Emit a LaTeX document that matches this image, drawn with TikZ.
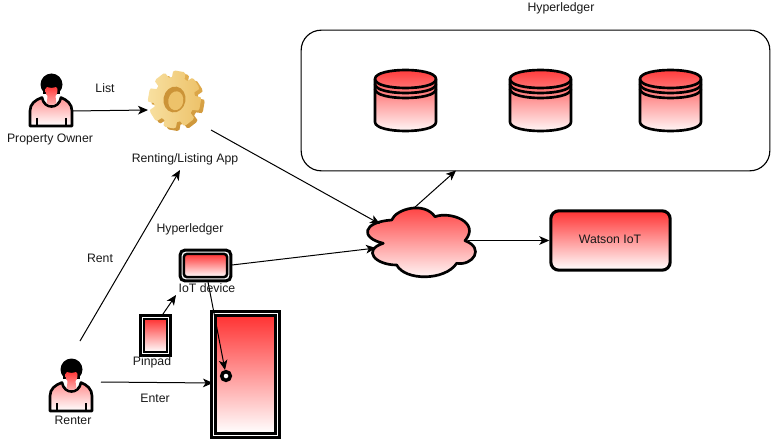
\documentclass[tikz,border=0pt]{standalone}
\usepackage{fontspec}
\setmainfont{Liberation Sans}
\usetikzlibrary{arrows.meta}
\definecolor{gradred}{HTML}{FF3333}
\definecolor{gearlight}{HTML}{F8E0A0}
\definecolor{gearmid}{HTML}{EDC26A}
\definecolor{geardark}{HTML}{CC9438}
\definecolor{gearside}{HTML}{E3AF50}
\tikzset{
  x=0.75pt,y=-0.75pt,
  lbl/.style={font=\fontsize{9.2pt}{10pt}\selectfont,inner sep=0pt,text=black!90},
  link/.style={draw=black,line width=0.75pt,-{Stealth[length=7.5pt,width=6.5pt,inset=2pt]}},
  grad/.style={top color=gradred,bottom color=white},
  thick shape/.style={draw=black,line width=2pt,line join=round},
  person/.pic={
    \fill[black] (0.5,-2.5) circle[radius=11];
    \fill[black] (-8,-2) rectangle (9,7);
    \path[thick shape,top color=gradred!55!white,bottom color=white]
      (-21,39) -- (-21,24) .. controls (-21,17) and (-16,13) .. (-9,10.5)
      .. controls (-7,22.5) and (8,22.5) .. (10,10.5)
      .. controls (16,13) and (21,17) .. (21,24) -- (21,39) -- cycle;
    \path[top color=gradred,bottom color=gradred!35!white]
      (-5.5,3) .. controls (-6,-1) and (-2,0) .. (0.5,1) .. controls (3,0) and (7,-1) .. (6.5,3)
      .. controls (6.5,7) and (5,8) .. (4.5,9) .. controls (5,14) and (5.5,16) .. (5.5,16.5)
      .. controls (2,18.5) and (-1,18.5) .. (-4.5,16.5) .. controls (-4,14) and (-3.5,11) .. (-3.5,9)
      .. controls (-5,8) and (-5.5,6) .. (-5.5,3) -- cycle;
    \draw[thick shape] (-14,31) -- (-14,39) (15,31) -- (15,39);
  },
  cyl/.pic={
    \path[thick shape,grad] (0,9) .. controls (0,-3) and (61,-3) .. (61,9) -- (61,52)
       .. controls (61,64) and (0,64) .. (0,52) -- cycle;
    \draw[thick shape] (0,9) .. controls (0,21) and (61,21) .. (61,9);
    \draw[thick shape] (0,14) .. controls (0,26) and (61,26) .. (61,14);
    \draw[thick shape] (0,19) .. controls (0,31) and (61,31) .. (61,19);
  }
}
\newcommand{\gearoutline}{
  (-14:26 and 28)
  \foreach \a in {0,45,...,315}{
    -- ({\a-14}:26 and 28) -- ({\a-9}:26.5 and 29) -- ({\a+9}:26.5 and 29) -- ({\a+14}:26 and 28)
    -- ({\a+18}:20.5 and 23) -- ({\a+27}:20.5 and 23)
  } -- cycle
}
\begin{document}
\begin{tikzpicture}
\useasboundingbox (0,0) rectangle (771,442);
\fill[white] (0,0) rectangle (771,442);

% Hyperledger container
\node[draw=black,line width=0.85pt,rounded corners=15pt,minimum width=351.5pt,minimum height=105.5pt,inner sep=0pt] (ledger) at (535.5,100.5) {};
\node[lbl] (ledgerlabel) at (561,8) {Hyperledger};
\pic (cyla) at (375,70) {cyl};
\pic (cylb) at (510,70) {cyl};
\pic (cylc) at (640,70) {cyl};
\coordinate (ledgerIn) at (456,170.5);

% Gear
\coordinate (gear) at (176,100);
\begin{scope}[shift={(178,102)},rotate=-10]
  \path[top color=gearside,bottom color=geardark] \gearoutline;
\end{scope}
\begin{scope}[shift={(174.5,99.5)},rotate=-10]
  \path[left color=gearlight,right color=gearmid] \gearoutline;
  \fill[geardark] (0,0) circle[x radius=11,y radius=13];
  \fill[gearmid] (1.5,1) circle[x radius=7.5,y radius=9.5];
\end{scope}
\node[lbl] (listlabel) at (105,88) {List};
\node[lbl] (applabel) at (185,159) {Renting/Listing App};

% People
\pic (owner) at (51,87) {person};
\node[lbl] (ownerlabel) at (50,139.5) {Property Owner};
\pic (renter) at (71,372) {person};
\node[lbl] (renterlabel) at (73,420) {Renter};

% Door
\node[draw=black,line width=2.4pt,fill=white,minimum width=51pt,minimum height=94.5pt,inner sep=0pt] (doorouter) at (245.5,374.5) {};
\node[draw=black,line width=2.1pt,grad,minimum width=45pt,minimum height=88.5pt,inner sep=0pt] (door) at (245.5,374.5) {};
\node[circle,draw=black,line width=2.6pt,fill=white,minimum size=6.5pt,inner sep=0pt] (knob) at (226,376) {};

% Pinpad
\node[draw=black,line width=2.3pt,fill=white,minimum width=23pt,minimum height=30.5pt,inner sep=0pt] (pinouter) at (155.5,335.5) {};
\node[draw=black,line width=1.9pt,grad,minimum width=17.5pt,minimum height=25pt,inner sep=0pt] (pinpad) at (155.5,335.5) {};

% IoT device
\node[draw=black,line width=2.3pt,fill=white,rounded corners=3.5pt,minimum width=38pt,minimum height=23pt,inner sep=0pt] (iotouter) at (205.5,265.5) {};
\node[draw=black,line width=1.9pt,grad,rounded corners=2.5pt,minimum width=32.5pt,minimum height=17.5pt,inner sep=0pt] (iot) at (205.5,265.5) {};

% Cloud
\path[thick shape,grad] (391.7,220)
  .. controls (396,209) and (424,201) .. (435,216.7)
  .. controls (450,211) and (481,222) .. (465,240.7)
  .. controls (485,248) and (473,266) .. (456.7,263.3)
  .. controls (445,281) and (405,281) .. (396.7,265)
  .. controls (375,265) and (362,250) .. (383.3,243.3)
  .. controls (360,238) and (362,222) .. (391.7,220) -- cycle;
\coordinate (cloudW1) at (380,224);
\coordinate (cloudW2) at (376,248);
\coordinate (cloudN) at (414,208);
\coordinate (cloudE) at (468,240.5);

% Watson
\node[draw=black,line width=2.3pt,rounded corners=6pt,grad,minimum width=89.5pt,minimum height=44.5pt,inner sep=0pt] (watson) at (610.5,240.5) {};
\node[lbl] (watsonlabel) at (610,239) {Watson IoT};

% Free ends of connectors
\coordinate (ownerE) at (72,111);
\coordinate (gearW) at (148,110);
\coordinate (appOut) at (211,130);
\coordinate (renterN) at (80,341);
\coordinate (appIn) at (180,170);
\coordinate (renterE) at (101,382);
\coordinate (doorW) at (213,383);
\coordinate (iotE) at (232,265);
\coordinate (iotS) at (208,282);
\coordinate (pinN) at (163,314);
\coordinate (iotIn) at (176,295);
\coordinate (knobN) at (225,370);

\draw[link] (ownerE) -- (gearW);
\draw[link] (appOut) -- (cloudW1);
\draw[link] (renterN) -- (appIn);
\draw[link] (renterE) -- (doorW);
\draw[link] (iotE) -- (cloudW2);
\draw[link] (pinN) -- (iotIn);
\draw[link] (iotS) -- (knobN);
\draw[link] (cloudN) -- (ledgerIn);
\draw[link] (cloudE) -- (watson.west);

% Other labels
\node[lbl] (hyperlabel) at (190,229) {Hyperledger};
\node[lbl] (rentlabel) at (100,258) {Rent};
\node[lbl] (iotlabel) at (207,288) {IoT device};
\node[lbl] (pinlabel) at (152,362) {Pinpad};
\node[lbl] (enterlabel) at (155,398.5) {Enter};
\end{tikzpicture}
\end{document}
